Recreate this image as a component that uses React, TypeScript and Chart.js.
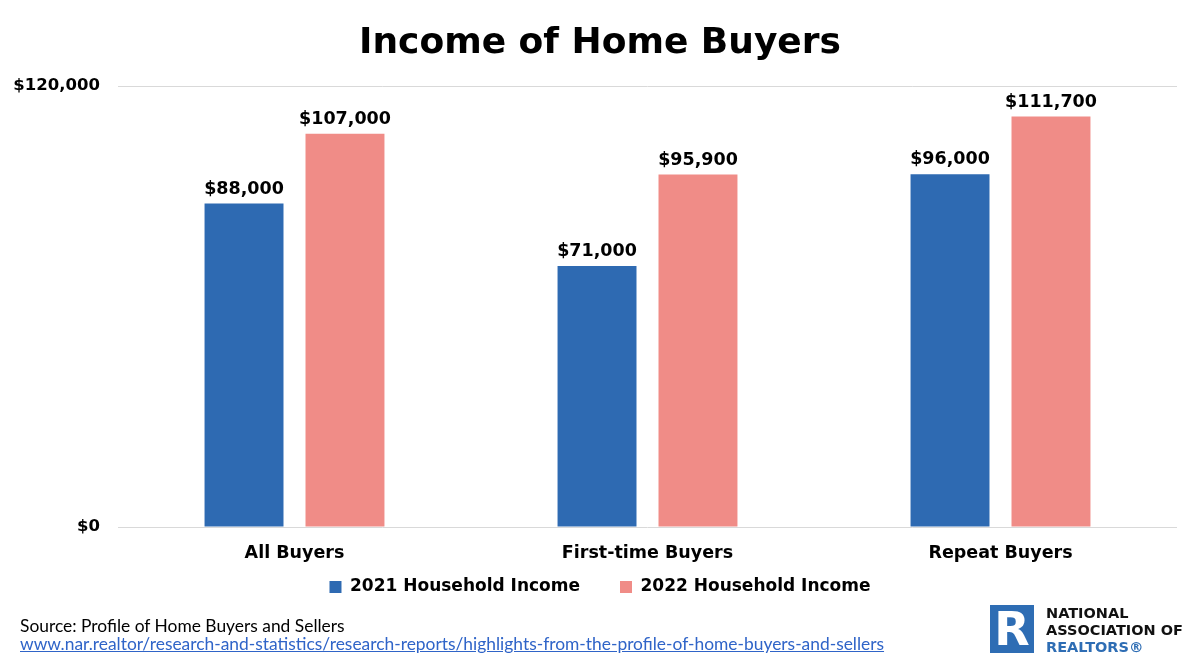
import React, { useEffect, useRef } from "react";
import { Chart, registerables } from "chart.js";

Chart.register(...registerables);

const categories = ["All Buyers", "First-time Buyers", "Repeat Buyers"];
const income2021 = [88000, 71000, 96000];
const income2022 = [107000, 95900, 111700];
const seriesNames = ["2021 Household Income", "2022 Household Income"];
const yTicks = [0, 120000];

const BLUE = "#2E6AB2";
const PINK = "#F08C87";
const FONT = '"DejaVu Sans", sans-serif';

const fmt = (v: number) => "$" + v.toLocaleString("en-US");

const valueLabels = {
  id: "valueLabels",
  afterDatasetsDraw(chart: any) {
    const ctx = chart.ctx;
    ctx.save();
    ctx.font = `bold 17.5px ${FONT}`;
    ctx.fillStyle = "#000";
    ctx.textAlign = "center";
    ctx.textBaseline = "alphabetic";
    chart.data.datasets.forEach((ds: any, i: number) => {
      const meta = chart.getDatasetMeta(i);
      meta.data.forEach((bar: any, j: number) => {
        ctx.fillText(fmt(ds.data[j]), bar.x, bar.y - 10);
      });
    });
    ctx.restore();
  },
};

export default function App() {
  const ref = useRef<HTMLCanvasElement>(null);

  useEffect(() => {
    if (!ref.current) return;
    const chart = new Chart(ref.current, {
      type: "bar",
      data: {
        labels: categories,
        datasets: [
          {
            label: seriesNames[0],
            data: income2021,
            backgroundColor: BLUE,
            categoryPercentage: 0.572,
            barPercentage: 0.782,
            yAxisID: "y",
          },
          {
            label: seriesNames[1],
            data: income2022,
            backgroundColor: PINK,
            categoryPercentage: 0.572,
            barPercentage: 0.782,
            yAxisID: "y",
          },
        ],
      },
      options: {
        responsive: false,
        animation: false,
        layout: { padding: { left: 0, right: 0, top: 0, bottom: 62.5 } },
        plugins: {
          title: {
            display: true,
            text: "Income of Home Buyers",
            color: "#000",
            font: { family: FONT, size: 36, weight: "bold" },
            padding: { top: 22, bottom: 86 - 22 - 36 * 1.2 },
          },
          legend: {
            display: true,
            position: "bottom",
            labels: {
              color: "#000",
              font: { family: FONT, size: 17, weight: "bold" },
              boxWidth: 12,
              boxHeight: 12,
              padding: 40,
            },
          },
          tooltip: { enabled: false },
        },
        scales: {
          x: {
            grid: { display: false, drawTicks: false },
            border: { display: false },
            ticks: {
              color: "#000",
              font: { family: FONT, size: 17.5, weight: "bold" },
              mirror: true,
              padding: -37,
            },
            afterFit(scale: any) {
              scale.height = 11.5;
            },
          },
          y: {
            min: 0,
            max: 120000,
            afterBuildTicks(scale: any) {
              scale.ticks = yTicks.map((v) => ({ value: v }));
            },
            grid: { color: "#D9D9D9", lineWidth: 1, drawTicks: false },
            border: { display: false },
            ticks: {
              color: "#000",
              font: { family: FONT, size: 16.5, weight: "bold" },
              padding: 18,
              callback: (v: any) => fmt(Number(v)),
            },
            afterFit(scale: any) {
              scale.width = 118;
            },
          },
          yRight: {
            type: "linear",
            position: "right",
            display: true,
            grid: { display: false, drawTicks: false },
            border: { display: false },
            ticks: { display: false },
            afterFit(scale: any) {
              scale.width = 23;
            },
          },
        },
      },
      plugins: [valueLabels],
    });
    return () => chart.destroy();
  }, []);

  const logoText: React.CSSProperties = {
    position: "absolute",
    left: 1046,
    fontFamily: FONT,
    fontWeight: "bold",
    fontSize: 14.5,
    lineHeight: "14.5px",
    whiteSpace: "nowrap",
  };
  const srcText: React.CSSProperties = {
    position: "absolute",
    left: 20,
    fontFamily: "Lato, sans-serif",
    fontSize: 17.4,
    lineHeight: "18px",
    whiteSpace: "nowrap",
  };

  return (
    <div
      style={{
        position: "absolute",
        left: 0,
        top: 0,
        width: 1200,
        height: 668,
        background: "#fff",
        overflow: "hidden",
      }}
    >
      <canvas ref={ref} width={1200} height={668} style={{ width: 1200, height: 668, display: "block" }} />
      <div style={{ ...srcText, top: 617, color: "#000" }}>Source: Profile of Home Buyers and Sellers</div>
      <div style={{ ...srcText, top: 635, color: "#2F64C8", textDecoration: "underline" }}>
        www.nar.realtor/research-and-statistics/research-reports/highlights-from-the-profile-of-home-buyers-and-sellers
      </div>
      <div
        style={{
          position: "absolute",
          left: 990,
          top: 605,
          width: 44,
          height: 48,
          background: "#2E6DB4",
          color: "#fff",
          fontFamily: FONT,
          fontWeight: "bold",
          fontSize: 46,
          lineHeight: "48px",
          textAlign: "center",
        }}
      >
        R
      </div>
      <div style={{ ...logoText, top: 606, color: "#111" }}>NATIONAL</div>
      <div style={{ ...logoText, top: 623, color: "#111" }}>ASSOCIATION OF</div>
      <div style={{ ...logoText, top: 640, color: "#2E6DB4" }}>REALTORS®</div>
    </div>
  );
}
